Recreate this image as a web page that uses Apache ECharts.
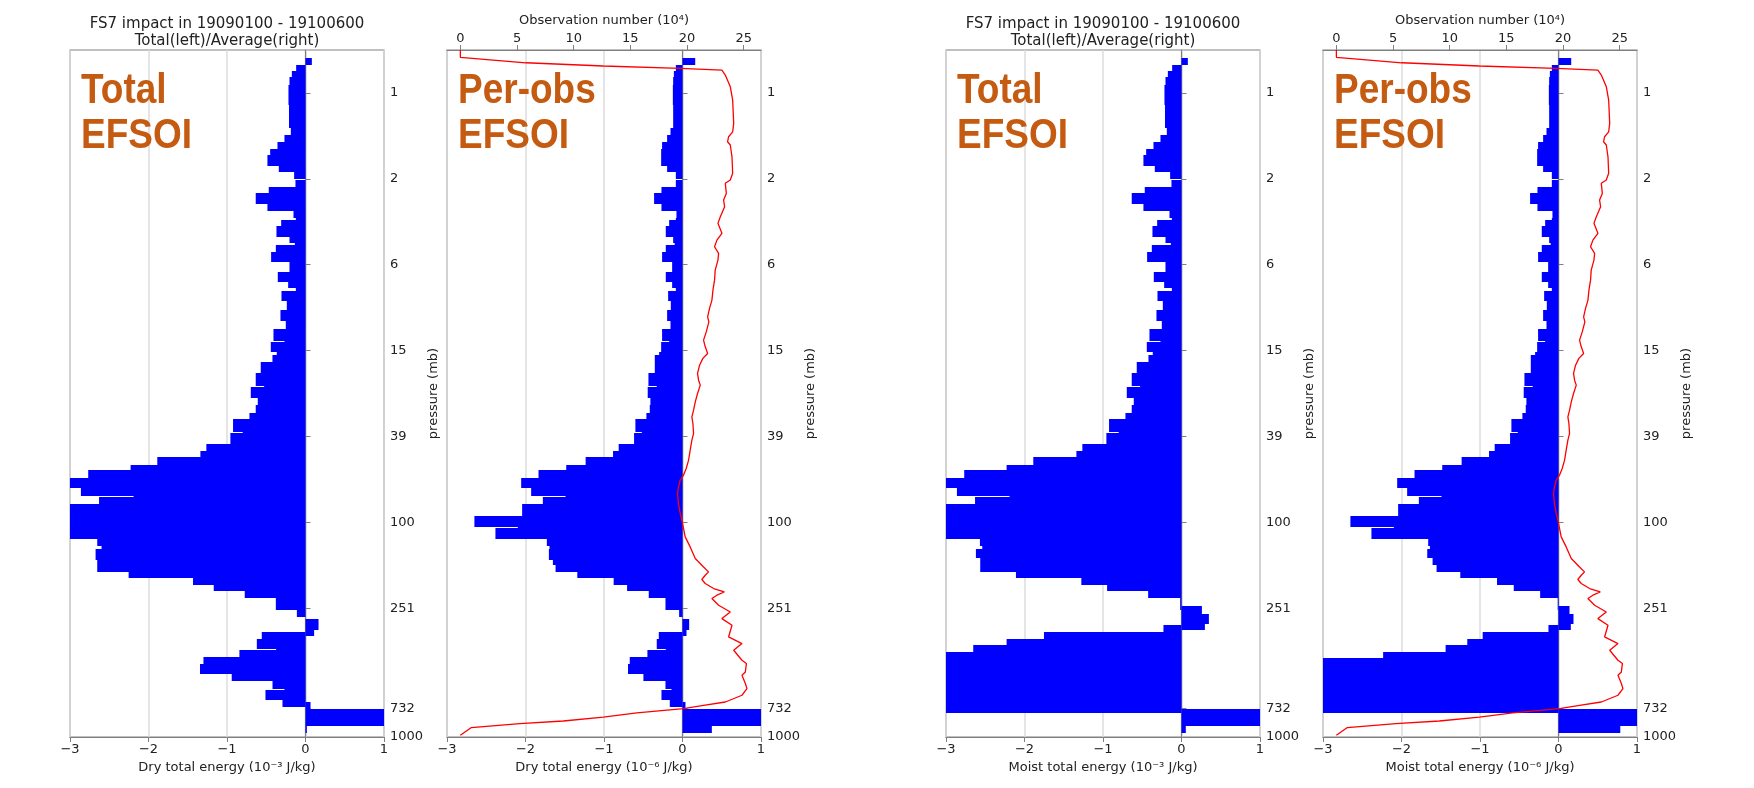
<!DOCTYPE html>
<html>
<head>
<meta charset="utf-8">
<script src="https://cdn.jsdelivr.net/npm/echarts@6/dist/echarts.min.js"></script>
<style>
  html, body { margin: 0; padding: 0; background: #fff; }
  #main { width: 1754px; height: 788px; }
</style>
</head>
<body>
<div id="main"></div>
<script>
// vertical coordinate: log-pressure level units, 0 = 1000 mb (bottom), 64 = model top
var tickLevels = [0, 2.65, 12, 20, 28, 36, 44, 52, 60];
var tickLabels = ['1000', '732', '251', '100', '39', '15', '6', '2', '1'];
var obsTicks = [0, 5, 10, 15, 20, 25];

// upper layers (same in dry and moist panels): layer i spans upperEdges[i] .. upperEdges[i+1]
var upperEdges = [63.22, 62.60, 62.04, 61.51, 60.74, 58.87, 56.70, 56.07, 55.40, 54.77, 54.21, 53.22, 52.60, 52.00, 51.89,
  51.20, 50.64, 49.65, 49.02, 48.31, 48.15, 47.60, 46.60, 45.98, 45.83, 45.20, 44.21, 43.34, 42.40, 41.79, 41.57, 40.63,
  39.77, 38.74, 38.00, 36.91, 36.76, 35.88, 35.57, 34.95, 33.87, 32.71, 32.56, 31.54, 30.91, 30.20, 29.58, 28.43, 28.33,
  27.25, 26.63, 26.04, 25.32, 24.86, 24.14, 23.21, 22.46, 22.37, 21.75, 20.60, 19.57, 19.48, 18.40];
var upperTotal = [0.081, -0.119, -0.174, -0.204, -0.217, -0.210, -0.187, -0.268, -0.357, -0.450, -0.485, -0.340, -0.145, 0,
  -0.128, -0.468, -0.634, -0.485, -0.153, -0.123, -0.310, -0.370, -0.204, -0.136, -0.378, -0.438, -0.204, -0.353, -0.221,
  -0.123, -0.306, -0.238, -0.319, -0.251, -0.408, -0.268, -0.442, -0.366, -0.421, -0.570, -0.634, -0.527, -0.697, -0.608,
  -0.634, -0.714, -0.923, -0.800, -0.957, -1.263, -1.339, -1.888, -2.228, -2.768, -3.2, -2.861, -2.190, -2.630, -3.2, -3.2,
  -3.2, -3.2];
var upperPerObs = [0.162, -0.085, -0.110, -0.119, -0.123, -0.119, -0.153, -0.196, -0.260, -0.272, -0.272, -0.196, -0.085, 0,
  -0.085, -0.268, -0.362, -0.268, -0.077, -0.085, -0.170, -0.213, -0.119, -0.100, -0.213, -0.260, -0.132, -0.213, -0.132,
  -0.085, -0.183, -0.149, -0.196, -0.153, -0.260, -0.170, -0.272, -0.298, -0.353, -0.353, -0.434, -0.328, -0.443, -0.409,
  -0.417, -0.460, -0.600, -0.519, -0.617, -0.813, -0.885, -1.234, -1.481, -1.834, -2.055, -1.928, -1.490, -1.779, -2.043,
  -2.651, -2.098, -2.383];

// lower layers, dry energy
var dryTop = [18.40, 17.77, 17.56, 16.53, 16.00, 15.38, 14.82, 14.20, 13.58, 12.99, 11.81, 10.97, 9.94, 9.79, 9.17, 8.24,
  8.08, 7.46, 6.78, 5.84, 5.22, 4.51, 4.42, 3.42, 3.26, 2.58, 1.00];
var dryBot = [17.77, 17.56, 16.53, 16.00, 15.38, 14.82, 14.20, 13.58, 12.99, 11.81, 11.18, 9.94, 9.41, 9.17, 8.24, 8.08,
  7.46, 6.78, 5.84, 5.22, 4.51, 4.42, 3.42, 2.80, 2.58, 1.00, 0.41];
var dryTotal = [-2.653, -2.598, -2.674, -2.653, -2.653, -2.253, -1.433, -1.169, -0.774, -0.378, -0.110, 0.166, 0.110,
  -0.557, -0.620, -0.374, -0.842, -1.300, -1.344, -0.940, -0.420, -0.268, -0.510, -0.293, 0.064, 1.2, 0.017];
var dryPerObs = [-1.728, -1.694, -1.702, -1.651, -1.617, -1.340, -0.877, -0.706, -0.430, -0.217, -0.043, 0.085, 0.051,
  -0.302, -0.328, -0.213, -0.447, -0.672, -0.694, -0.498, -0.217, -0.140, -0.268, -0.162, 0.038, 1.2, 0.374];

// lower layers, moist energy
var moistTop = [18.40, 17.77, 17.56, 16.63, 16.00, 15.38, 14.82, 14.20, 13.58, 12.99, 12.18, 11.50, 10.57, 10.41, 9.79,
  9.17, 8.55, 7.92, 7.40, 2.58, 1.00];
var moistBot = [17.77, 17.56, 16.63, 16.00, 15.38, 14.82, 14.20, 13.58, 12.99, 11.81, 11.50, 10.57, 9.94, 9.79, 9.17,
  8.55, 7.92, 7.40, 2.24, 1.00, 0.41];
var moistTotal = [-2.568, -2.538, -2.619, -2.564, -2.564, -2.109, -1.276, -0.948, -0.425, -0.017, 0.260, 0.349, 0.298,
  -0.230, -1.752, -2.228, -2.653, -3.2, -3.2, 1.2, 0.055];
var moistPerObs = [-1.660, -1.638, -1.672, -1.604, -1.553, -1.251, -0.783, -0.570, -0.234, -0.010, 0.140, 0.191, 0.157,
  -0.128, -0.966, -1.162, -1.438, -2.234, -3.2, 1.2, 0.787];

// observation number (10^4) profile
var obsLevel = [64.0, 63.32, 62.81, 62.51, 62.29, 62.13, 61.67, 60.58, 59.33, 57.17, 56.38, 55.92, 55.45, 55.15, 54.05,
  52.51, 51.89, 51.58, 50.64, 50.02, 49.39, 48.46, 47.85, 46.92, 46.29, 45.67, 45.05, 44.43, 43.49, 42.56, 41.63, 40.70,
  39.93, 39.14, 38.68, 37.74, 36.97, 36.35, 35.73, 35.27, 34.64, 33.87, 33.24, 32.78, 32.00, 31.22, 30.45, 29.82, 29.21,
  28.28, 27.65, 26.72, 25.79, 25.01, 24.39, 23.92, 23.30, 22.68, 21.75, 20.82, 20.20, 18.64, 17.71, 16.63, 15.84, 15.38,
  15.07, 14.67, 14.30, 13.83, 13.51, 13.21, 12.90, 12.27, 11.65, 11.03, 10.41, 9.32, 8.70, 8.08, 7.15, 6.84, 6.06, 5.75,
  4.98, 4.51, 3.89, 3.26, 2.95, 2.65, 2.24, 1.86, 1.49, 1.25, 0.88, 0.16];
var obsCount = [0, 0, 5.78, 12.62, 19.40, 23.08, 23.38, 23.82, 24.03, 24.12, 24.03, 23.67, 23.58, 23.82, 23.97, 24.03,
  23.82, 23.38, 23.47, 23.23, 23.32, 22.94, 22.73, 23.08, 22.64, 22.43, 22.79, 22.73, 22.49, 22.43, 22.29, 22.20, 21.99,
  21.82, 21.93, 21.70, 21.46, 21.61, 21.82, 21.40, 21.11, 20.93, 21.02, 21.17, 20.93, 20.73, 20.58, 20.43, 20.52, 20.58,
  20.43, 20.28, 20.14, 19.93, 19.69, 19.40, 19.25, 19.16, 19.25, 19.40, 19.55, 19.84, 20.28, 20.73, 21.46, 21.90, 21.61,
  21.31, 21.61, 22.35, 23.29, 22.64, 22.20, 22.79, 23.82, 23.08, 23.97, 23.67, 24.85, 24.12, 24.85, 25.24, 25.15, 24.85,
  25.15, 25.29, 24.85, 23.38, 21.46, 19.69, 15.57, 12.62, 9.08, 5.25, 0.97, 0];

var energyNames = ['Dry total energy (10⁻³ J/kg)', 'Dry total energy (10⁻⁶ J/kg)',
  'Moist total energy (10⁻³ J/kg)', 'Moist total energy (10⁻⁶ J/kg)'];
var tagWords = [['Total', 'EFSOI'], ['Per-obs', 'EFSOI'], ['Total', 'EFSOI'], ['Per-obs', 'EFSOI']];
var panelTitle = 'FS7 impact in 19090100 - 19100600\nTotal(left)/Average(right)';

var chart = echarts.init(document.getElementById('main'));
var gridLeft = [70, 447, 946, 1323];
var gridW = 314, gridTop = 50, gridH = 687;
var font = 'DejaVu Sans';
var ink = '#222';
var frame = '#808080';
var tagColor = '#c55a11';

function layerBars(edges, vals) {
  return vals.map(function (v, i) { return [edges[i], edges[i + 1], v]; });
}
function boxBars(top, bot, vals) {
  return vals.map(function (v, i) { return [top[i], bot[i], v]; });
}
var panelBars = [
  layerBars(upperEdges, upperTotal).concat(boxBars(dryTop, dryBot, dryTotal)),
  layerBars(upperEdges, upperPerObs).concat(boxBars(dryTop, dryBot, dryPerObs)),
  layerBars(upperEdges, upperTotal).concat(boxBars(moistTop, moistBot, moistTotal)),
  layerBars(upperEdges, upperPerObs).concat(boxBars(moistTop, moistBot, moistPerObs))
];
var obsLine = obsCount.map(function (c, i) { return [c, obsLevel[i]]; });

// horizontal bar between two levels; rows snapped to whole pixels so neighbours join without seams
function renderBar(params, api) {
  var p0 = api.coord([0, api.value(0)]);
  var p1 = api.coord([api.value(2), api.value(1)]);
  var cs = params.coordSys;
  var y0 = Math.round(Math.min(p0[1], p1[1]));
  var y1 = Math.round(Math.max(p0[1], p1[1]));
  var shape = echarts.graphic.clipRectByRect({
    x: Math.min(p0[0], p1[0]),
    y: y0,
    width: Math.abs(p1[0] - p0[0]),
    height: y1 - y0
  }, { x: cs.x, y: cs.y, width: cs.width, height: cs.height });
  return shape && { type: 'rect', shape: shape, style: { fill: '#0000ff' } };
}

function energyLabel(v) {
  return v < 0 ? '\u2212' + Math.abs(v) : String(v);
}
function pressureLabel(v) {
  for (var i = 0; i < tickLevels.length; i++) {
    if (Math.abs(v - tickLevels[i]) < 0.01) return tickLabels[i];
  }
  return '';
}

var textStyle = { fontFamily: font, fontSize: 13, color: ink };
var grids = [], xAxes = [], yAxes = [], series = [], graphics = [];

gridLeft.forEach(function (left, i) {
  grids.push({ left: left, top: gridTop, width: gridW, height: gridH, show: true,
    borderColor: frame, borderWidth: 1.2, backgroundColor: 'transparent' });
  xAxes.push({
    type: 'value', gridIndex: i, position: 'bottom', min: -3, max: 1, interval: 1,
    axisLine: { show: true, lineStyle: { color: frame, width: 1.2 } },
    axisTick: { show: true, length: 5, lineStyle: { color: frame } },
    axisLabel: Object.assign({ margin: 6, formatter: energyLabel }, textStyle),
    splitLine: { show: true, lineStyle: { color: '#dcdcdc', width: 1.5 } },
    name: energyNames[i], nameLocation: 'middle', nameGap: 24, nameTextStyle: textStyle
  });
  yAxes.push({
    type: 'value', gridIndex: i, position: 'right', min: 0, max: 64,
    axisLine: { show: true, lineStyle: { color: frame, width: 1.2 } },
    axisTick: { show: true, length: 5, customValues: tickLevels, lineStyle: { color: frame } },
    axisLabel: Object.assign({ margin: 6, customValues: tickLevels, formatter: pressureLabel }, textStyle),
    splitLine: { show: false },
    name: 'pressure (mb)', nameLocation: 'middle', nameRotate: 90, nameGap: 43, nameTextStyle: textStyle
  });
  series.push({
    type: 'custom', xAxisIndex: i, yAxisIndex: i, renderItem: renderBar,
    encode: { x: 2, y: [0, 1] }, data: panelBars[i], z: 2
  });
  tagWords[i].forEach(function (w, k) {
    graphics.push({
      type: 'text', x: left + 11, y: 71 + k * 45, scaleY: 1.13, z: 10,
      style: { text: w, font: 'bold 37px "Liberation Sans"', fill: tagColor,
        verticalAlign: 'top', textVerticalAlign: 'top' }
    });
  });
});

[1, 3].forEach(function (g) {
  xAxes.push({
    type: 'value', gridIndex: g, position: 'top', min: -1.18, max: 26.53,
    axisLine: { show: true, lineStyle: { color: frame, width: 1.2 } },
    axisTick: { show: true, length: 5, customValues: obsTicks, lineStyle: { color: frame } },
    axisLabel: Object.assign({ margin: 5, customValues: obsTicks }, textStyle),
    splitLine: { show: false },
    name: 'Observation number (10⁴)', nameLocation: 'middle', nameGap: 18, nameTextStyle: textStyle
  });
});
series.push({ type: 'line', xAxisIndex: 4, yAxisIndex: 1, data: obsLine, symbol: 'none',
  lineStyle: { color: '#ff0000', width: 1.3 }, z: 3 });
series.push({ type: 'line', xAxisIndex: 5, yAxisIndex: 3, data: obsLine, symbol: 'none',
  lineStyle: { color: '#ff0000', width: 1.3 }, z: 3 });

var option = {
  animation: false,
  backgroundColor: '#fff',
  title: [0, 2].map(function (i) {
    return { text: panelTitle, left: gridLeft[i] + gridW / 2, top: 16, padding: 0, textAlign: 'center',
      textStyle: { fontFamily: font, fontSize: 15, fontWeight: 'normal', lineHeight: 17, color: ink } };
  }),
  grid: grids,
  xAxis: xAxes,
  yAxis: yAxes,
  series: series,
  graphic: { elements: graphics }
};

chart.setOption(option);
</script>
</body>
</html>
